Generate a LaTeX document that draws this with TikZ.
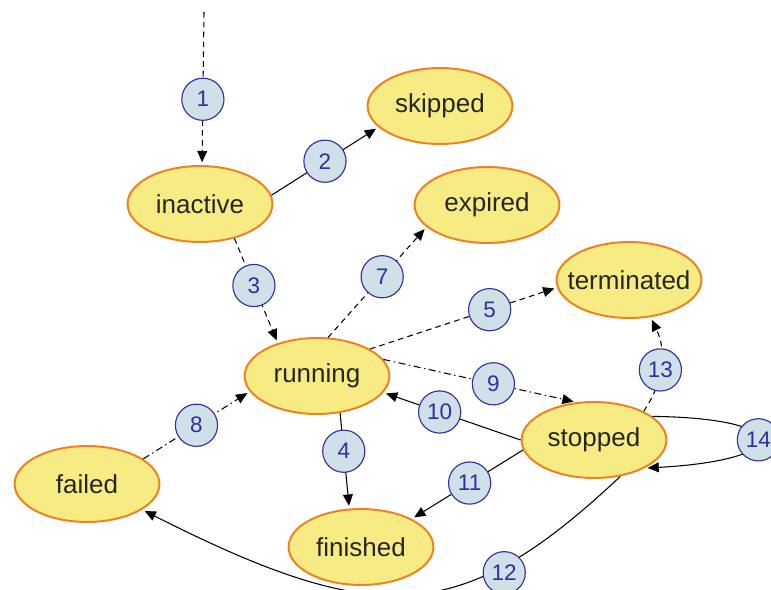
\documentclass[tikz,border=0pt]{standalone}
\usepackage{fontspec}
\setmainfont{Liberation Sans}
\usepackage{tikz}
\usetikzlibrary{arrows,arrows.meta,shapes.geometric,positioning,backgrounds}
\definecolor{statefill}{RGB}{247,236,132}
\definecolor{stateline}{RGB}{240,128,32}
\definecolor{numfill}{RGB}{208,224,232}
\definecolor{numline}{RGB}{48,48,160}

\begin{document}
\begin{tikzpicture}[x=0.025cm,y=-0.025cm,->,>={Triangle[length=8pt,width=7pt]},shorten >=2pt,line width=0.75pt,
state/.style={ellipse,fill=statefill,draw=stateline,line width=1.4pt,minimum width=103pt,
minimum height=54pt,inner sep=0pt,text=black!85,font=\fontsize{18.5}{20}\selectfont},
num/.style={circle,solid,fill=numfill,draw=numline,line width=0.8pt,text=numline,
minimum size=30pt,inner sep=0pt,font=\fontsize{16}{16}\selectfont},
dashline/.style={dash pattern=on 4pt off 3pt},
dotline/.style={dash pattern=on 5pt off 2.5pt on 1pt off 2.5pt}]
\useasboundingbox (0,0) rectangle (771,590);
\node[state] (inactive) at (200,204) {inactive};
\node[state] (skipped) at (440,106) {skipped};
\node[state] (expired) at (487,205) {expired};
\node[state,inner xsep=-8pt] (terminated) at (629,280) {terminated};
\node[state] (running) at (317,376) {running};
\node[state] (stopped) at (594,440) {stopped};
\node[state] (failed) at (87,484) {failed};
\node[state] (finished) at (361,547) {finished};
\coordinate (start) at (204,12);
\path (start) edge[dashline] node[num,pos=0.57] {1} (inactive.87)
(inactive.7) edge node[num] {2} (skipped.199)
(inactive.315) edge[dashline] node[num,pos=0.45] {3} (running.140)
(running.74) edge[dashline] node[num,pos=0.55] {7} (expired.200)
(running.27) edge[dashline] node[num,pos=0.64] {5} (terminated.186)
(running.14) edge[dotline] node[num,pos=0.57] {9} (stopped.115)
(running.302) edge node[num,pos=0.4] {4} (finished.107)
(failed.24) edge[dotline] node[num] {8} (running.193)
(stopped.180) edge node[num,pos=0.59] {10} (running.346)
(stopped.188) edge node[num,pos=0.48] {11} (finished.29)
(stopped.30) edge[dashline,bend right=30] node[num,pos=0.45] {13} (terminated.300);
\draw (stopped.22) .. controls (795,418) and (795,460) .. node[num] {14} (stopped.331);
% runs under finished
\begin{scope}[on background layer]
\draw[line width=0.75pt] (stopped.306) .. controls (462,625) and (380,630) .. node[num,pos=0.27,yshift=-5pt] {12} (failed.335);
\end{scope}
\end{tikzpicture}
\end{document}
